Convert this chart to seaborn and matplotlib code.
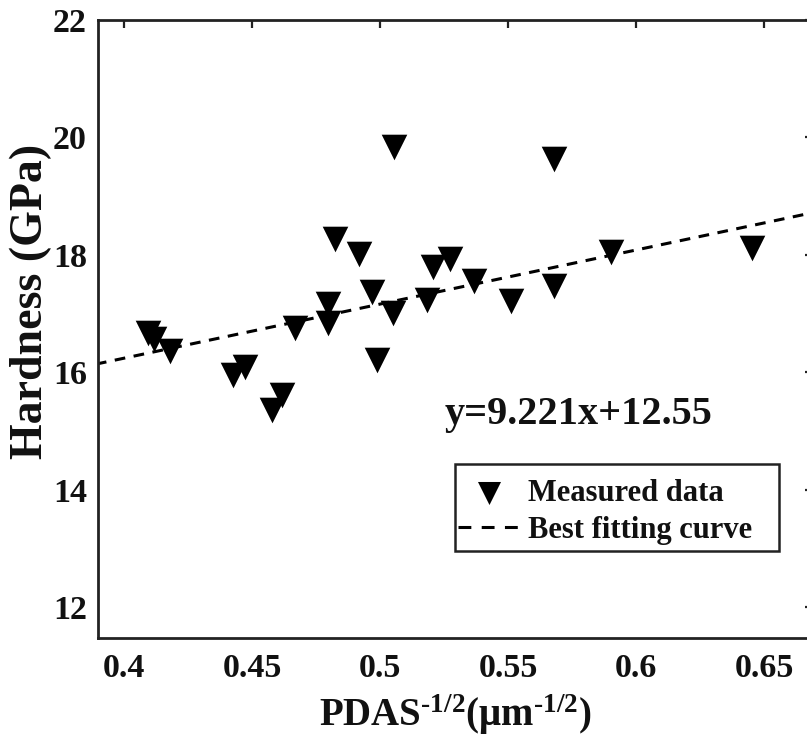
import numpy as np
import pandas as pd
import seaborn as sns
import matplotlib
matplotlib.use("Agg")
import matplotlib.pyplot as plt
from matplotlib.patches import Rectangle

# measured points
pdas = [0.4092, 0.4117, 0.4180, 0.4425, 0.4474, 0.4578, 0.4617, 0.4668,
        0.4795, 0.4796, 0.4823, 0.4917, 0.4970, 0.4988, 0.5051, 0.5053,
        0.5182, 0.5207, 0.5274, 0.5365, 0.5509, 0.5679, 0.5680, 0.5901,
        0.6450]
hardness = [16.67, 16.57, 16.36, 15.95, 16.08, 15.36, 15.61, 16.76,
            16.84, 17.17, 18.27, 18.01, 17.36, 16.21, 17.01, 19.84,
            17.23, 17.79, 17.92, 17.55, 17.21, 17.46, 19.63, 18.04,
            18.11]

# fitting line from the chart text
slope = 9.221
intercept = 12.55
fit_x = [0.389, 0.669]

x_ticks = [0.4, 0.45, 0.5, 0.55, 0.6, 0.65]
x_tick_labels = ["0.4", "0.45", "0.5", "0.55", "0.6", "0.65"]
y_ticks = [12, 14, 16, 18, 20, 22]

sns.set_style("white")
plt.rcParams["font.family"] = ["Liberation Serif", "DejaVu Serif"]
plt.rcParams["font.weight"] = "bold"
plt.rcParams["mathtext.fontset"] = "custom"
plt.rcParams["mathtext.rm"] = "Liberation Serif:bold"
plt.rcParams["mathtext.default"] = "rm"

df = pd.DataFrame({"x": pdas, "y": hardness})
fit = pd.DataFrame({"x": fit_x, "y": [slope * v + intercept for v in fit_x]})

fig = plt.figure(figsize=(8.07, 7.49), dpi=100)
ax = fig.add_axes([0.1214, 0.1482, 0.886, 0.825])

sns.scatterplot(data=df, x="x", y="y", marker="v", s=340, color="black",
                edgecolor="black", linewidth=0, label="Measured data", ax=ax, zorder=3)
sns.lineplot(data=fit, x="x", y="y", color="black", linestyle=(0, (3.5, 2.8)), linewidth=2.2,
             label="Best fitting curve", ax=ax, zorder=2)

ax.set_xlim(0.3898, 0.669)
ax.set_ylim(11.47, 22)
ax.set_xticks(x_ticks)
ax.set_xticklabels(x_tick_labels)
ax.set_yticks(y_ticks)

for s in ax.spines.values():
    s.set_linewidth(2)
    s.set_color("#222222")
ax.tick_params(direction="in", length=6, width=1.6, labelsize=24.5,
               top=True, right=True, colors="#222222", labelcolor="#111111")
ax.tick_params(axis="x", pad=11)
ax.tick_params(axis="y", pad=8)

ax.set_xlabel(r"PDAS$^{\text{-1/2}}$(μm$^{\text{-1/2}}$)", fontsize=28, fontweight="bold",
              labelpad=6, color="#111111")
ax.set_ylabel("Hardness (GPa)", fontsize=33, fontweight="bold", color="#111111")
ax.yaxis.set_label_coords(-0.064, 0.544)

ax.text(0.5253, 15.117, "y=9.221x+12.55", fontsize=29, fontweight="bold",
        va="baseline", ha="left", color="#111111")

# legend box drawn as in the MATLAB original (wider than its contents)
ax.add_patch(Rectangle((0.4993, 0.1408), 0.4531, 0.1408, transform=ax.transAxes,
                       fill=False, edgecolor="#222222", linewidth=1.8, zorder=4))
leg = ax.legend(loc="upper left", bbox_to_anchor=(0.5035, 0.2573), borderaxespad=0,
                fontsize=22, frameon=False, handlelength=2.0, handletextpad=0.3,
                borderpad=0, labelspacing=0.25, markerscale=0.9)
for t in leg.get_texts():
    t.set_fontweight("bold")
    t.set_color("#111111")
for ln in leg.get_lines():
    ln.set_dashes((4.2, 3.4))

fig.savefig("out.png", dpi=100)
